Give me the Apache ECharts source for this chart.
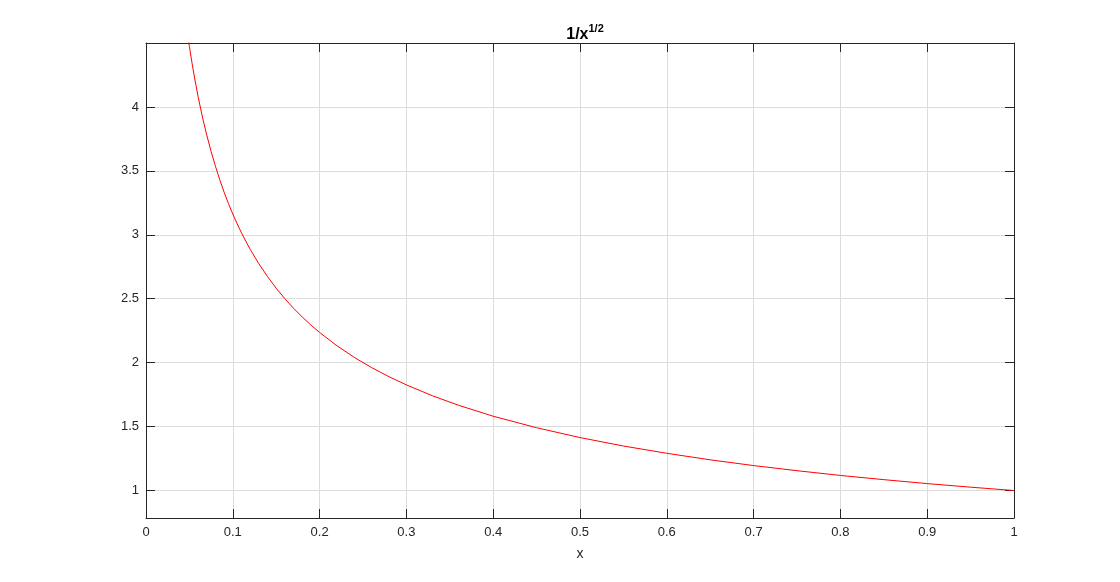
<!DOCTYPE html>
<html><head><meta charset="utf-8">
<script src="https://cdn.jsdelivr.net/npm/echarts@6/dist/echarts.min.js"></script>
<style>html,body{margin:0;padding:0;background:#fff}#c{width:1120px;height:582px}</style>
</head><body><div id="c"></div>
<script>
const xValues = [0.045,0.048,0.05,0.053,0.056,0.06,0.063,0.066,0.07,0.075,0.08,0.085,0.09,0.095,0.1,0.105,0.11,0.115,0.12,0.13,0.14,0.15,0.16,0.17,0.18,0.19,0.2,0.22,0.24,0.26,0.28,0.3,0.33,0.36,0.4,0.45,0.5,0.55,0.6,0.65,0.7,0.75,0.8,0.85,0.9,0.95,1.0];
const yValues = [4.714,4.564,4.472,4.344,4.226,4.082,3.984,3.892,3.780,3.651,3.536,3.430,3.333,3.244,3.162,3.086,3.015,2.949,2.887,2.774,2.673,2.582,2.500,2.425,2.357,2.294,2.236,2.132,2.041,1.961,1.890,1.826,1.741,1.667,1.581,1.491,1.414,1.348,1.291,1.240,1.195,1.155,1.118,1.085,1.054,1.026,1.000];
const yTicks = [1,1.5,2,2.5,3,3.5,4];
const yMin = 0.785, yMax = 4.5;
const axisColor = '#262626', gridColor = '#dcdcdc';
const font = 'Liberation Sans, Arial, sans-serif';

const chart = echarts.init(document.getElementById('c'));
const baseX = {
  type:'value', min:0, max:1, interval:0.1,
  axisLine:{show:true, onZero:false, lineStyle:{color:axisColor,width:1}},
  axisTick:{show:true, inside:true, length:9, lineStyle:{color:axisColor}},
  splitLine:{show:false}
};
const baseY = {
  type:'value', min:yMin, max:yMax,
  axisLine:{show:true, onZero:false, lineStyle:{color:axisColor,width:1}},
  axisTick:{show:true, inside:true, length:9, customValues:yTicks, lineStyle:{color:axisColor}},
  splitLine:{show:false}
};
chart.setOption({
  animation:false,
  title:{
    text:'{b|1/x}{s|1/2}', left:580, textAlign:'center', top:18,
    textStyle:{rich:{
      b:{fontFamily:font,fontSize:16,fontWeight:'bold',color:'#000',verticalAlign:'bottom',lineHeight:20},
      s:{fontFamily:font,fontSize:11,fontWeight:'bold',color:'#000',verticalAlign:'top',lineHeight:20,padding:[0,0,4,0]}
    }}
  },
  grid:{left:146,right:106,top:43,bottom:64,containLabel:false},
  xAxis:[
    Object.assign({}, baseX, {
      position:'bottom', name:'x', nameLocation:'middle', nameGap:29,
      nameTextStyle:{fontFamily:font,fontSize:14,color:axisColor},
      axisLabel:{fontFamily:font,fontSize:13,color:axisColor,margin:8,
        formatter:v=>String(Math.round(v*10)/10)},
      splitLine:{show:true,lineStyle:{color:gridColor,width:1}}
    }),
    Object.assign({}, baseX, {position:'top', axisLabel:{show:false}})
  ],
  yAxis:[
    Object.assign({}, baseY, {
      position:'left',
      axisLabel:{fontFamily:font,fontSize:13,color:axisColor,margin:7,customValues:yTicks},
      splitLine:{show:true,lineStyle:{color:gridColor,width:1}}
    }),
    Object.assign({}, baseY, {position:'right', axisLabel:{show:false}})
  ],
  series:[{
    type:'line', xAxisIndex:0, yAxisIndex:0,
    data:xValues.map((x,i)=>[x,yValues[i]]),
    showSymbol:false, smooth:false, clip:true,
    lineStyle:{color:'#ff0000',width:1}
  }]
});
</script></body></html>
